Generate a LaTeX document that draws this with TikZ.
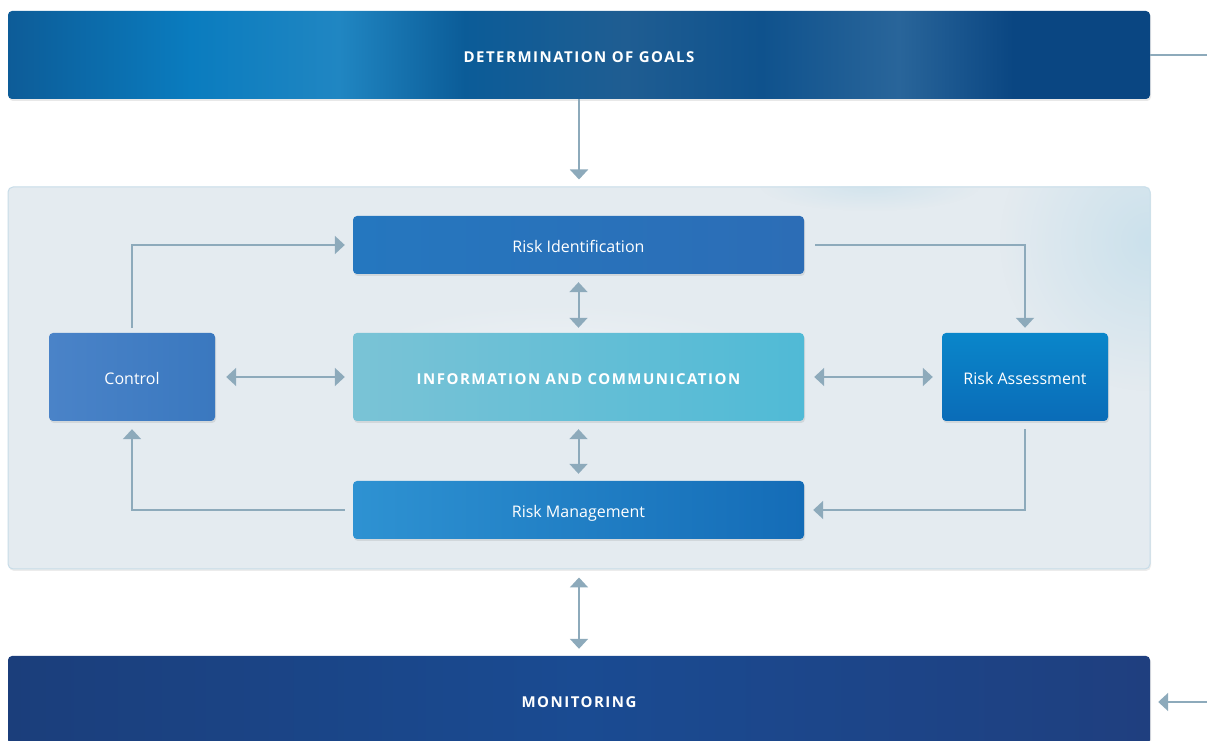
\documentclass[tikz,border=0pt]{standalone}
\usepackage{fontspec}
\setsansfont{Open Sans}
\newfontfamily\capsfont{Open Sans}[LetterSpace=10]
\usetikzlibrary{arrows.meta,shadows,fadings}

\definecolor{arrowc}{HTML}{8DAABB}
\definecolor{panelfill}{HTML}{E4EBF0}
\definecolor{paneledge}{HTML}{C7DCE8}
\definecolor{cloudc}{HTML}{CBE1EC}
\definecolor{gA}{HTML}{0D5C98}
\definecolor{gC}{HTML}{0A7CBF}
\definecolor{gD}{HTML}{2086C2}
\definecolor{gE}{HTML}{0B5C98}
\definecolor{gF}{HTML}{1F5D92}
\definecolor{gG}{HTML}{0F528D}
\definecolor{gH}{HTML}{29659A}
\definecolor{gI}{HTML}{0A4682}
\definecolor{mA}{HTML}{1B3E7B}
\definecolor{mB}{HTML}{1A4B92}
\definecolor{mC}{HTML}{1F3F7F}
\definecolor{riL}{HTML}{2577BF}
\definecolor{riR}{HTML}{2C6DB6}
\definecolor{infoL}{HTML}{7AC3D6}
\definecolor{infoR}{HTML}{50BAD6}
\definecolor{rmL}{HTML}{2E92D2}
\definecolor{rmR}{HTML}{146CB7}
\definecolor{ctL}{HTML}{4A83C8}
\definecolor{ctR}{HTML}{3A78BF}
\definecolor{raT}{HTML}{0A86CA}
\definecolor{raB}{HTML}{0A6CB8}

% streaky blue band behind the goals heading
\pgfdeclarehorizontalshading{goalsshade}{100bp}{%
  color(0bp)=(gA); color(25bp)=(gA); color(33bp)=(gC);
  color(39.5bp)=(gD); color(45bp)=(gE); color(52bp)=(gF); color(58bp)=(gG);
  color(64bp)=(gH); color(69bp)=(gI); color(75bp)=(gI); color(100bp)=(gI)}
\pgfdeclarehorizontalshading{monshade}{100bp}{%
  color(0bp)=(mA); color(25bp)=(mA); color(50bp)=(mB); color(75bp)=(mC); color(100bp)=(mC)}

\tikzfading[name=softspot, inner color=transparent!0, outer color=transparent!100]

\tikzset{
  box/.style={rounded corners=4pt, inner sep=0pt, text=white,
    drop shadow={shadow xshift=1pt, shadow yshift=-2pt, opacity=.15, fill=black!60}},
  smalltext/.style={font=\sffamily\fontsize{16}{19}\selectfont, text height=15.5pt, text depth=0pt},
  captext/.style={font=\capsfont\bfseries\fontsize{15}{18}\selectfont, text height=16pt, text depth=0pt},
  band/.style={box, minimum width=1142pt, captext},
  wide/.style={box, minimum width=451pt, smalltext},
  side/.style={box, minimum width=166pt, minimum height=88pt, smalltext},
  link/.style={draw=arrowc, line width=2pt},
  conn/.style={link, -{Triangle[width=18pt,length=10pt]}},
  twoway/.style={link, {Triangle[width=18pt,length=10pt]}-{Triangle[width=18pt,length=10pt]}}
}

\begin{document}
\begin{tikzpicture}[x=1pt,y=1pt]
\clip (0,0) rectangle (1207,741);
\fill[white] (0,0) rectangle (1207,741);

% outer bands
\node[band, shading=goalsshade, minimum height=88pt] (goals) at (579,686) {DETERMINATION OF GOALS};
\node[band, shading=monshade, minimum height=88pt] (mon) at (579,41) {MONITORING};

% process panel
\node[rounded corners=5pt, fill=panelfill, draw=paneledge, line width=1pt,
      minimum width=1142pt, minimum height=382pt, inner sep=0pt,
      drop shadow={shadow xshift=1pt, shadow yshift=-2pt, opacity=.12, fill=black!60}] (panel) at (579,363) {};
\begin{scope}
  \clip[rounded corners=5pt] (panel.south west) rectangle (panel.north east);
  \fill[cloudc, path fading=softspot] (1150,500) ellipse (150 and 150);
  \fill[cloudc, path fading=softspot, opacity=.7] (870,555) ellipse (110 and 25);
  \fill[white, path fading=softspot, opacity=.35] (560,380) ellipse (220 and 60);
\end{scope}

% inner steps
\node[wide, minimum height=58pt, left color=riL, right color=riR] (ri) at (578.5,496) {Risk Identification};
\node[wide, minimum height=88pt, captext, left color=infoL, right color=infoR] (info) at (578.5,364) {INFORMATION AND COMMUNICATION};
\node[wide, minimum height=58pt, left color=rmL, right color=rmR] (rm) at (578.5,231) {Risk Management};
\node[side, left color=ctL, right color=ctR] (ctrl) at (132,364) {Control};
\node[side, top color=raT, bottom color=raB] (ra) at (1025,364) {Risk Assessment};

% cycle connectors
\draw[conn] ([yshift=5pt]ctrl.north) |- ([xshift=-8pt]ri.west);
\draw[conn] ([xshift=11pt]ri.east) -| ([yshift=5pt]ra.north);
\draw[conn] ([yshift=-8pt]ra.south) |- ([xshift=9pt]rm.east);
\draw[conn] ([xshift=-8pt]rm.west) -| ([yshift=-8pt]ctrl.south);

% exchange with the information hub
\draw[twoway] ([xshift=11pt]ctrl.east) -- ([xshift=-8pt]info.west);
\draw[twoway] ([xshift=10pt]info.east) -- ([xshift=-9pt]ra.west);
\draw[twoway] ([yshift=-8pt]ri.south) -- ([yshift=5pt]info.north);
\draw[twoway] ([yshift=-8pt]info.south) -- ([yshift=7pt]rm.north);

% links to the outer bands
\draw[conn] (goals.south) -- ([yshift=7pt]panel.north);
\draw[twoway] ([yshift=-8pt]panel.south) -- ([yshift=7pt]mon.north);
\coordinate (goalsout) at (1207,686);
\coordinate (monin) at (1207,39);
\draw[link] (goals.east) -- (goalsout);
\draw[conn] (monin) -- ([xshift=8pt,yshift=-2pt]mon.east);
\end{tikzpicture}
\end{document}
